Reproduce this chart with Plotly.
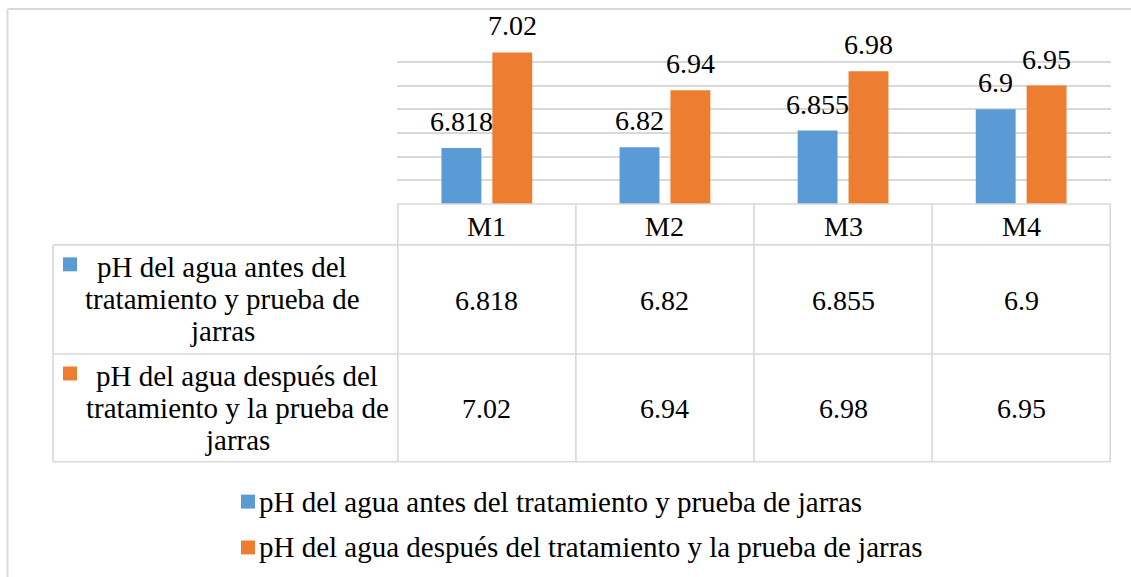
import plotly.graph_objects as go

# ---- data ----
categories = ["M1", "M2", "M3", "M4"]
ph_before = [6.818, 6.82, 6.855, 6.9]
ph_after = [7.02, 6.94, 6.98, 6.95]
series_names = [
    "pH del agua antes del tratamiento y prueba de jarras",
    "pH del agua después del tratamiento y la prueba de jarras",
]
row_label_lines = [
    ["pH del agua antes del", "tratamiento y prueba de", "jarras"],
    ["pH del agua después del", "tratamiento y la prueba de", "jarras"],
]
y_min, y_max, y_step = 6.70, 7.05, 0.05

# ---- styling ----
BLUE = "#5b9bd5"
ORANGE = "#ed7d31"
LINE = "#d9d9d9"
FONT = "Liberation Serif"
FS_NUM = 28      # numbers and headers
FS_TXT = 29      # row labels and legend

W_FIG, H_FIG = 1131, 577
L, R, T, B = 397, 1111, 38, 204.5   # plot area in pixels
PW, PH = R - L, B - T


def xp(px):
    return (px - L) / PW


def yp(py):
    return (B - py) / PH


def txt(size=FS_NUM, **kw):
    base = dict(showarrow=False, xanchor="center", yanchor="middle",
                font=dict(family=FONT, size=size, color="#000000"))
    base.update(kw)
    return base


series = [(series_names[0], ph_before, BLUE), (series_names[1], ph_after, ORANGE)]

fig = go.Figure()
for name, vals, col in series:
    fig.add_trace(go.Bar(
        x=categories, y=vals, name=name, marker=dict(color=col, line=dict(width=0)),
        showlegend=False, hoverinfo="skip",
    ))

shapes = []
annotations = []

# data labels above the bars
offsets = [-0.1425, 0.1425]
for (name, vals, col), off in zip(series, offsets):
    for i, v in enumerate(vals):
        annotations.append(txt(x=i + off, y=v, xref="x", yref="y", text=f"{v:g}",
                               yanchor="bottom", yshift=9))

# data table grid
line = dict(color=LINE, width=1.6)
shapes.append(dict(type="line", xref="paper", yref="paper", x0=xp(L), x1=xp(R), y0=yp(B), y1=yp(B), line=line))
for ypx in (245.5, 355, 463):
    shapes.append(dict(type="line", xref="paper", yref="paper", x0=xp(53), x1=xp(R), y0=yp(ypx), y1=yp(ypx), line=line))
for k in range(len(categories) + 1):
    shapes.append(dict(type="line", xref="x", yref="paper", x0=k - 0.5, x1=k - 0.5, y0=yp(B), y1=yp(463), line=line))
shapes.append(dict(type="line", xref="paper", yref="paper", x0=xp(53), x1=xp(53), y0=yp(245.5), y1=yp(463), line=line))

# outer chart frame
frame = dict(color=LINE, width=2)
shapes.append(dict(type="line", xref="paper", yref="paper", x0=xp(7.5), x1=xp(7.5), y0=yp(9), y1=yp(600), line=frame))
shapes.append(dict(type="line", xref="paper", yref="paper", x0=xp(7.5), x1=xp(1140), y0=yp(9), y1=yp(9), line=frame))

# header row
for i, c in enumerate(categories):
    annotations.append(txt(x=i, y=yp(227), xref="x", yref="paper", text=c))

# value rows
row_centers = [301, 410]
for (name, vals, col), rc in zip(series, row_centers):
    for i, v in enumerate(vals):
        annotations.append(txt(x=i, y=yp(rc), xref="x", yref="paper", text=f"{v:g}"))

# row labels with colour keys
row_tops = [245.5, 355]
label_centers = [222, 237]
for lines, (name, vals, col), top, cx in zip(row_label_lines, series, row_tops, label_centers):
    for j, s in enumerate(lines):
        annotations.append(txt(size=FS_TXT, x=xp(cx), y=yp(top + 22.5 + 32 * j),
                               xref="paper", yref="paper", text=s))
    shapes.append(dict(type="rect", xref="paper", yref="paper", x0=xp(63), x1=xp(77),
                       y0=yp(top + 12.5), y1=yp(top + 26.5), fillcolor=col, line=dict(width=0)))

# legend below the table
legend_centers = [503, 549]
for (name, vals, col), lc in zip(series, legend_centers):
    shapes.append(dict(type="rect", xref="paper", yref="paper", x0=xp(241), x1=xp(255),
                       y0=yp(lc - 7), y1=yp(lc + 7), fillcolor=col, line=dict(width=0)))
    annotations.append(txt(size=FS_TXT, x=xp(257), y=yp(lc), xref="paper", yref="paper",
                           text=name, xanchor="left"))

fig.update_layout(
    width=W_FIG, height=H_FIG,
    margin=dict(l=L, r=W_FIG - R, t=T, b=H_FIG - B, pad=0),
    paper_bgcolor="#ffffff", plot_bgcolor="#ffffff",
    barmode="group", bargap=0.4286, bargroupgap=0.216,
    xaxis=dict(showticklabels=False, showgrid=False, zeroline=False, showline=False, ticks=""),
    yaxis=dict(range=[y_min, y_max + 0.0004], dtick=y_step, tick0=y_min, showticklabels=False,
               showgrid=True, gridcolor=LINE, gridwidth=1.6, zeroline=False, showline=False, ticks=""),
    shapes=shapes, annotations=annotations,
    font=dict(family=FONT, size=FS_NUM, color="#000000"),
)

fig.write_html("out.html")
